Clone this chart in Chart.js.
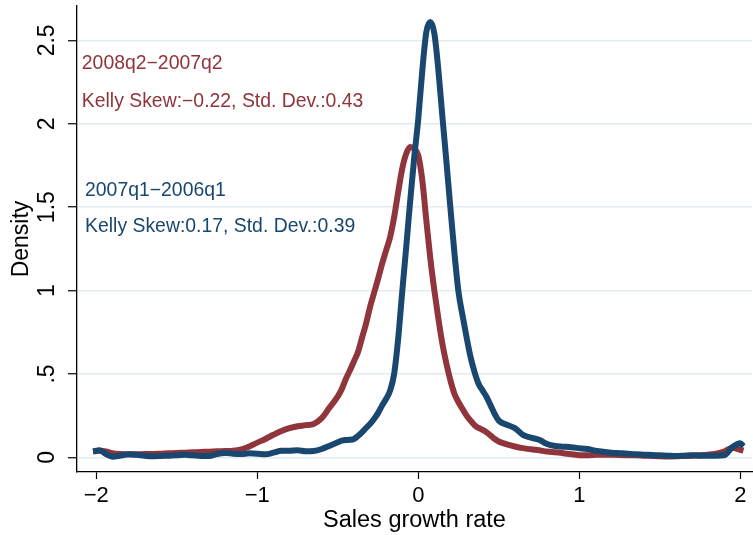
<!DOCTYPE html>
<html>
<head>
<meta charset="utf-8">
<script src="https://cdn.jsdelivr.net/npm/chart.js@4.4.1/dist/chart.umd.min.js"></script>
<style>
  html, body { margin: 0; padding: 0; background: #ffffff; }
  #wrap { width: 753px; height: 535px; }
</style>
</head>
<body>
<div id="wrap"><canvas id="c" width="753" height="535"></canvas></div>
<script>
// Kernel density of firm sales growth, two comparison windows
const growthRate = [
  -2.02, -1.98, -1.94,
  -1.90, -1.85, -1.80, -1.75, -1.70, -1.65, -1.60, -1.55, -1.50, -1.45, -1.40, -1.35, -1.30,
  -1.25, -1.20, -1.15, -1.10, -1.05, -1.00, -0.95, -0.90, -0.85, -0.80, -0.75, -0.70, -0.65,
  -0.60, -0.55, -0.50,
  -0.475, -0.45, -0.425, -0.40, -0.375, -0.35, -0.325, -0.30, -0.275, -0.25, -0.225, -0.20,
  -0.175, -0.15, -0.125, -0.10, -0.075, -0.05, -0.025, 0, 0.025, 0.05, 0.075, 0.10, 0.125,
  0.15, 0.175, 0.20, 0.225, 0.25, 0.275, 0.30, 0.325, 0.35, 0.375, 0.40, 0.425, 0.45, 0.475,
  0.50, 0.55, 0.60, 0.65, 0.70, 0.75, 0.80, 0.85, 0.90, 0.95, 1.00, 1.05, 1.10, 1.15, 1.20,
  1.25, 1.30, 1.35, 1.40, 1.45, 1.50, 1.55, 1.60, 1.65, 1.70, 1.75, 1.80, 1.85, 1.90, 1.95,
  2.00, 2.02
];

// 2008q2 over 2007q2
const density2008 = [
  0.035, 0.040, 0.035,
  0.025, 0.020, 0.018, 0.018, 0.020, 0.020, 0.022, 0.024, 0.026, 0.028, 0.030, 0.032, 0.034,
  0.036, 0.038, 0.040, 0.048, 0.065, 0.088, 0.110, 0.135, 0.158, 0.175, 0.186, 0.193, 0.200,
  0.235, 0.300, 0.365,
  0.410, 0.470, 0.520, 0.575, 0.630, 0.715, 0.800, 0.900, 0.985, 1.070, 1.160, 1.240,
  1.320, 1.440, 1.590, 1.730, 1.820, 1.860, 1.850, 1.810, 1.660, 1.420, 1.190, 1.000, 0.830,
  0.680, 0.560, 0.460, 0.380, 0.330, 0.290, 0.250, 0.220, 0.192, 0.176, 0.165, 0.150, 0.130, 0.110,
  0.095, 0.078, 0.065, 0.055, 0.048, 0.042, 0.035, 0.030, 0.025, 0.018, 0.013, 0.012, 0.015, 0.016, 0.015,
  0.014, 0.013, 0.012, 0.010, 0.008, 0.006, 0.005, 0.006, 0.008, 0.010, 0.013, 0.016, 0.022, 0.035, 0.058,
  0.045, 0.040
];

// 2007q1 over 2006q1
const density2007 = [
  0.035, 0.042, 0.020,
  0.004, 0.010, 0.018, 0.015, 0.010, 0.006, 0.008, 0.010, 0.012, 0.015, 0.012, 0.008, 0.008,
  0.020, 0.026, 0.022, 0.020, 0.024, 0.022, 0.018, 0.028, 0.040, 0.040, 0.042, 0.036, 0.038,
  0.050, 0.070, 0.090,
  0.100, 0.104, 0.105, 0.110, 0.128, 0.150, 0.176, 0.200, 0.230, 0.265, 0.310, 0.350,
  0.400, 0.500, 0.710, 0.990, 1.260, 1.540, 1.800, 2.030, 2.320, 2.550, 2.610, 2.540, 2.320,
  2.040, 1.770, 1.490, 1.220, 0.990, 0.850, 0.720, 0.600, 0.510, 0.440, 0.400, 0.360, 0.310, 0.260,
  0.220, 0.195, 0.175, 0.135, 0.118, 0.105, 0.080, 0.068, 0.064, 0.060, 0.055, 0.050, 0.040, 0.033, 0.028,
  0.025, 0.022, 0.018, 0.016, 0.014, 0.012, 0.010, 0.008, 0.010, 0.012, 0.010, 0.010, 0.010, 0.012, 0.060,
  0.085, 0.066
];

const xTickValues = [-2, -1, 0, 1, 2];
const xTickLabels = ['\u22122', '\u22121', '0', '1', '2'];
const yTickValues = [0, 0.5, 1, 1.5, 2, 2.5];
const yTickLabels = ['0', '.5', '1', '1.5', '2', '2.5'];

const label2008 = '2008q2\u22122007q2';
const stats2008 = 'Kelly Skew:\u22120.22, Std. Dev.:0.43';
const label2007 = '2007q1\u22122006q1';
const stats2007 = 'Kelly Skew:0.17, Std. Dev.:0.39';

const RED = '#90353b';
const BLUE = '#1a476f';
const FONT = "'Liberation Sans', Arial, Helvetica, sans-serif";

const toPoints = ys => growthRate.map((x, i) => ({ x: x, y: ys[i] }));

// Text notes placed in data coordinates
const notesPlugin = {
  id: 'notes',
  afterDatasetsDraw(chart) {
    const { ctx, scales: { x, y } } = chart;
    const notes = [
      { text: label2008, gx: -2.09, gy: 2.36, color: RED },
      { text: stats2008, gx: -2.09, gy: 2.135, color: RED },
      { text: label2007, gx: -2.07, gy: 1.60, color: BLUE },
      { text: stats2007, gx: -2.07, gy: 1.385, color: BLUE }
    ];
    ctx.save();
    ctx.font = '19.4px ' + FONT;
    ctx.textAlign = 'left';
    ctx.textBaseline = 'middle';
    notes.forEach(n => {
      ctx.fillStyle = n.color;
      ctx.fillText(n.text, x.getPixelForValue(n.gx), y.getPixelForValue(n.gy));
    });
    ctx.restore();
  }
};

new Chart(document.getElementById('c'), {
  type: 'line',
  data: {
    datasets: [
      {
        label: label2007,
        data: toPoints(density2007),
        borderColor: BLUE,
        borderWidth: 6,
        pointRadius: 0,
        cubicInterpolationMode: 'monotone',
        fill: false
      },
      {
        label: label2008,
        data: toPoints(density2008),
        borderColor: RED,
        borderWidth: 6,
        pointRadius: 0,
        cubicInterpolationMode: 'monotone',
        fill: false
      }
    ]
  },
  options: {
    responsive: false,
    animation: false,
    devicePixelRatio: 1,
    layout: { padding: { top: 6, right: 1, left: 0, bottom: 0 } },
    plugins: {
      legend: { display: false },
      tooltip: { enabled: false }
    },
    scales: {
      x: {
        type: 'linear',
        min: -2.12,
        max: 2.073,
        afterBuildTicks: s => { s.ticks = xTickValues.map(v => ({ value: v })); },
        afterFit: s => {
          s.height = 63;
          s.paddingLeft = 0; s.paddingRight = 0;
        },
        ticks: {
          callback: (v) => xTickLabels[xTickValues.indexOf(v)],
          color: '#000000',
          font: { family: FONT, size: 22 },
          padding: 4,
          maxRotation: 0
        },
        grid: {
          drawOnChartArea: false,
          drawTicks: true,
          tickLength: 7,
          tickColor: '#000000',
          tickWidth: 1.2
        },
        border: { display: true, color: '#000000', width: 1.3 },
        title: {
          display: true,
          text: 'Sales growth rate',
          color: '#000000',
          font: { family: FONT, size: 23.5 },
          padding: { top: 0, bottom: 0 }
        }
      },
      y: {
        type: 'linear',
        min: -0.088,
        max: 2.706,
        afterBuildTicks: s => { s.ticks = yTickValues.map(v => ({ value: v })); },
        afterFit: s => {
          s.width = 77;
          s.paddingTop = 0; s.paddingBottom = 0;
        },
        ticks: {
          callback: (v) => yTickLabels[yTickValues.indexOf(v)],
          color: '#000000',
          font: { family: FONT, size: 23 },
          padding: 4,
          minRotation: 90,
          maxRotation: 90,
          crossAlign: 'center'
        },
        grid: {
          color: '#e4ebf1',
          lineWidth: 1.5,
          drawTicks: true,
          tickLength: 9,
          tickColor: '#000000',
          tickWidth: 1.2
        },
        border: { display: true, color: '#000000', width: 1.3 },
        title: {
          display: true,
          text: 'Density',
          color: '#000000',
          font: { family: FONT, size: 23 },
          padding: { top: 8, bottom: 0 }
        }
      }
    }
  },
  plugins: [notesPlugin]
});
</script>
</body>
</html>
